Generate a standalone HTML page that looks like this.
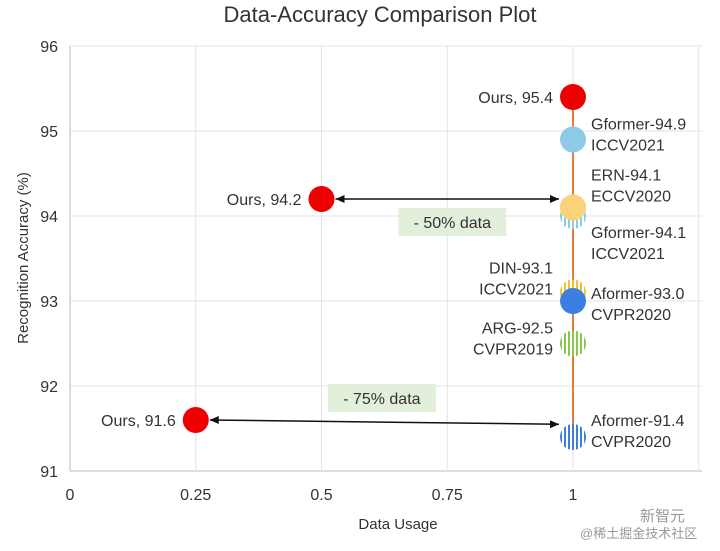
<!DOCTYPE html>
<html><head><meta charset="utf-8"><style>
body{margin:0;background:#fff;}
svg text{font-family:"Liberation Sans",sans-serif;fill:#333;}
</style></head><body>
<svg width="720" height="546">
<defs>
<pattern id="vs-lb" width="4" height="4" patternUnits="userSpaceOnUse"><rect width="4" height="4" fill="#fff"/><rect width="2" height="4" fill="#8ec9e8"/></pattern>
<pattern id="vs-y" width="4" height="4" patternUnits="userSpaceOnUse"><rect width="4" height="4" fill="#fff"/><rect width="2" height="4" fill="#f0c030"/></pattern>
<pattern id="vs-g" width="4" height="4" patternUnits="userSpaceOnUse"><rect width="4" height="4" fill="#fff"/><rect width="2" height="4" fill="#8cc34a"/></pattern>
<pattern id="vs-b" width="4" height="4" patternUnits="userSpaceOnUse"><rect width="4" height="4" fill="#fff"/><rect width="2" height="4" fill="#3d7fe0"/></pattern>
</defs>
<g id="grid"></g>
<g id="marks"></g>
<text x="380" y="22" text-anchor="middle" font-size="22">Data-Accuracy Comparison Plot</text>
<text x="398" y="529" text-anchor="middle" font-size="15">Data Usage</text>
<text transform="translate(28,258) rotate(-90)" text-anchor="middle" font-size="15">Recognition Accuracy (%)</text>
<text x="640" y="521" font-size="15" style="fill:#999;font-family:'Liberation Sans','Noto Sans CJK SC',sans-serif">新智元</text>
<text x="580" y="538" font-size="13" style="fill:#999;font-family:'Liberation Sans','Noto Sans CJK SC',sans-serif">@稀土掘金技术社区</text>
</svg>
<script>
const xTicks=[0,0.25,0.5,0.75,1];
const xTickLabels=["0","0.25","0.5","0.75","1"];
const yTicks=[91,92,93,94,95,96];
const pointX=[1,1,1,1,1,1,1,1,0.5,0.25];
const pointY=[95.4,94.9,94.0,94.1,93.1,93.0,92.5,91.4,94.2,91.6];
const pointFill=["#e00","#8ec9e8","url(#vs-lb)","#f9d27a","url(#vs-y)","#3d7fe0","url(#vs-g)","url(#vs-b)","#e00","#e00"];
const pointNames=["ours-95-4","gformer-94-9","gformer-94-1","ern-94-1","din-93-1","aformer-93-0","arg-92-5","aformer-91-4","ours-94-2","ours-91-6"];
const X0=70,XW=503,Y0=471,YH=85;
const sx=v=>X0+v*XW, sy=v=>Y0-(v-91)*YH;
const NS="http://www.w3.org/2000/svg";
function mk(p,t,a){const e=document.createElementNS(NS,t);for(const k in a)e.setAttribute(k,a[k]);p.appendChild(e);return e;}
const g=document.getElementById('grid'),m=document.getElementById('marks');
const R=702;
yTicks.forEach(v=>{const l=mk(g,'line',{x1:X0,x2:R,y1:sy(v),y2:sy(v),stroke:v==91?'#bbb':'#e3e3e3'});

const t=mk(g,'text',{x:X0-12,y:sy(v)+6,'text-anchor':'end','font-size':16});t.textContent=v;
});
[0,0.25,0.5,0.75,1,1.25].forEach(v=>{const l=mk(g,'line',{x1:sx(v),x2:sx(v),y1:sy(96),y2:sy(91),stroke:v==0?'#bbb':'#e3e3e3'});
});
xTicks.forEach((v,i)=>{const t=mk(g,'text',{x:sx(v),y:500,'text-anchor':'middle','font-size':16});t.textContent=xTickLabels[i];
});
const vl=mk(m,'line',{x1:sx(1),x2:sx(1),y1:sy(95.4),y2:sy(91.4),stroke:'#e87a3a','stroke-width':2});

function box(xv,yv,w,txt,name){const bx=mk(m,'rect',{x:sx(xv)-w/2,y:sy(yv)-14,width:w,height:28,fill:'#e2efda'});

const t=mk(m,'text',{x:sx(xv),y:sy(yv)+6,'text-anchor':'middle','font-size':16});t.textContent=txt;
}
box(0.76,93.93,108,'- 50% data','annotation-50');
box(0.62,91.86,108,'- 75% data','annotation-75');
function arrow(x1,y1,x2,y2,name){const a=mk(m,'line',{x1:sx(x1)+14,y1:sy(y1),x2:sx(x2)-14,y2:sy(y2),stroke:'#111','stroke-width':1.5});

const ax=sx(x1)+14,bx=sx(x2)-14,ay=sy(y1),by=sy(y2);
const h1=mk(m,'polygon',{points:`${ax},${ay} ${ax+9},${ay-4} ${ax+9},${ay+4}`,fill:'#111'});
const h2=mk(m,'polygon',{points:`${bx},${by} ${bx-9},${by-4} ${bx-9},${by+4}`,fill:'#111'});}
arrow(0.5,94.2,1,94.2,'arrow-50');
arrow(0.25,91.6,1,91.55,'arrow-75');
pointX.forEach((v,i)=>{const c=mk(m,'circle',{cx:sx(v),cy:sy(pointY[i]),r:13,fill:pointFill[i]});
});
const ern=mk(m,'circle',{cx:sx(1),cy:sy(94.1),r:13,fill:'#f9d27a'});

const labels=[
[1,95.4,-20,6,'end',['Ours, 95.4']],
[1,94.9,18,-10,'start',['Gformer-94.9','ICCV2021']],
[1,94.1,18,-27,'start',['ERN-94.1','ECCV2020']],
[1,94.0,18,22,'start',['Gformer-94.1','ICCV2021']],
[1,93.1,-20,-19,'end',['DIN-93.1','ICCV2021']],
[1,93.0,18,-2,'start',['Aformer-93.0','CVPR2020']],
[1,92.5,-20,-10,'end',['ARG-92.5','CVPR2019']],
[1,91.4,18,-11,'start',['Aformer-91.4','CVPR2020']],
[0.5,94.2,-20,6,'end',['Ours, 94.2']],
[0.25,91.6,-20,6,'end',['Ours, 91.6']]];
labels.forEach(L=>{L[5].forEach((s,k)=>{const t=mk(m,'text',{x:sx(L[0])+L[2],y:sy(L[1])+L[3]+k*21,'text-anchor':L[4],'font-size':16});t.textContent=s;
});});
</script>
</body></html>
